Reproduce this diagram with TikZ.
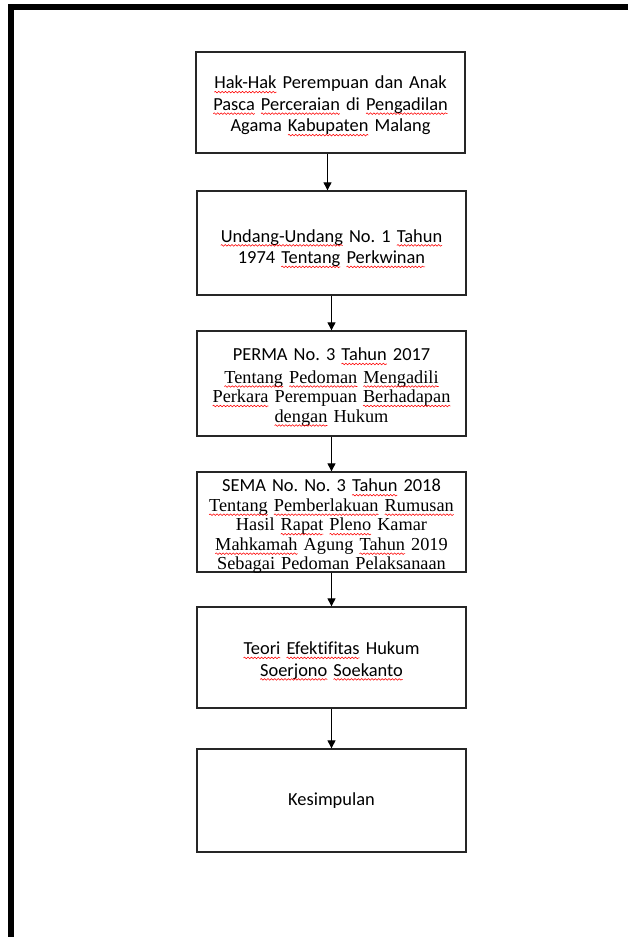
\documentclass[tikz,border=0pt]{standalone}
\usepackage{fontspec}
\usetikzlibrary{arrows.meta,decorations.pathmorphing}
\newfontfamily\calib[Ligatures=CommonOff]{Carlito}
\newfontfamily\tnr[Ligatures=CommonOff]{Liberation Serif}
\frenchspacing
\newlength\sqwd
\newsavebox\sqbox
\newcommand\sq[1]{\sbox\sqbox{#1}\setlength\sqwd{\wd\sqbox}\leavevmode\rlap{\usebox\sqbox}%
  \tikz[baseline=0pt]{\useasboundingbox (0pt,0pt) rectangle (\sqwd,0pt);
  \draw[red,line width=0.55pt,decorate,decoration={snake,amplitude=0.8pt,segment length=3.4pt}]
  (0pt,-3.2pt) -- (\sqwd,-3.2pt);}}
\newcommand\dn[1]{\rule{0pt}{#1}}
\definecolor{boxline}{HTML}{262626}
\begin{document}
\begin{tikzpicture}[x=1pt,y=1pt,
  box/.style={draw=boxline,line width=1.3pt,minimum width=269pt,inner sep=0pt,
    align=center,text width=262pt,font=\calib\fontsize{18.4}{21.5}\selectfont},
  serifbox/.style={box,font=\tnr\fontsize{18.3}{19.5}\selectfont},
  seriftext/.style={inner sep=0pt,align=center,text width=262pt,
    font=\tnr\fontsize{18.3}{19.5}\selectfont},
  arr/.style={line width=0.9pt,draw=black,-{Triangle[length=8pt,width=8pt]}},
  frameline/.style={line width=5.5pt,line join=miter}]
\useasboundingbox (0,0) rectangle (628,-937);
\fill[white] (0,0) rectangle (628,-937);
\draw[frameline] (11,-942) -- (11,-7) -- (634,-7);

\node[box,minimum height=101pt] (b1) at (330.5,-102.5)
  {\dn{19pt}\sq{Hak-Hak} Perempuan dan Anak\\ \sq{Pasca} \sq{Perceraian} di \sq{Pengadilan}\\ Agama \sq{Kabupaten} Malang};
\node[box,minimum height=104pt] (b2) at (331.5,-243)
  {\dn{23pt}\sq{Undang-Undang} No. 1 \sq{Tahun}\\ 1974 \sq{Tentang} \sq{Perkwinan}};
\node[serifbox,minimum height=105pt] (b3) at (331.5,-383.5)
  {{\calib\fontsize{18.4}{21.5}\selectfont \dn{20pt}PERMA No. 3 \sq{Tahun} 2017}\\[3pt]
   \sq{Tentang} \sq{Pedoman} \sq{Mengadili}\\ \sq{Perkara} Perempuan \sq{Berhadapan}\\ \sq{dengan} Hukum};
\node[box,minimum height=100pt] (b4) at (331.5,-522) {};
\begin{scope}
  \clip (b4.south west) rectangle (b4.north east);
  \node[seriftext,anchor=north] (b4t) at (331.5,-479)
    {{\calib\fontsize{18.4}{21.5}\selectfont SEMA No. No. 3 \sq{Tahun} 2018}\\
     \sq{Tentang} \sq{Pemberlakuan} \sq{Rumusan}\\ Hasil \sq{Rapat} \sq{Pleno} Kamar\\
     \sq{Mahkamah} Agung \sq{Tahun} 2019\\ Sebagai Pedoman Pelaksanaan};
\end{scope}
\node[box,minimum height=101pt] (b5) at (331.5,-657.5)
  {\dn{19pt}\sq{Teori} \sq{Efektifitas} Hukum\\ \sq{Soerjono} \sq{Soekanto}};
\node[box,minimum height=103pt] (b6) at (331.5,-800.5) {Kesimpulan};

\draw[arr] ([xshift=-3pt]b1.south) -- ([xshift=-4pt]b2.north);
\draw[arr] (b2.south) -- (b3.north);
\draw[arr] (b3.south) -- (b4.north);
\draw[arr] (b4.south) -- (b5.north);
\draw[arr] (b5.south) -- (b6.north);
\end{tikzpicture}
\end{document}
